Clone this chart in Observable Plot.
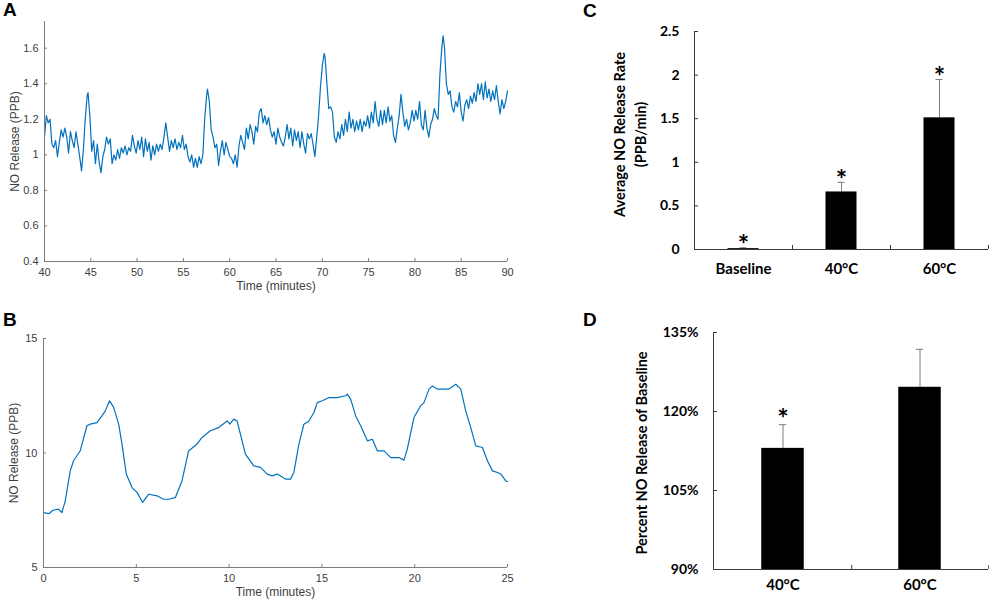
<!DOCTYPE html>
<html><head><meta charset="utf-8">
<script src="https://cdn.jsdelivr.net/npm/d3@7"></script>
<script src="https://cdn.jsdelivr.net/npm/@observablehq/plot@0.6"></script>
<style>
body{margin:0;background:#fff;}
#fig{position:relative;width:989px;height:602px;overflow:hidden;background:#fff;}
.panel{position:absolute;}
.letter{position:absolute;font:bold 19px "Liberation Sans",Arial,sans-serif;line-height:19px;color:#000;}
</style></head><body><div id="fig"></div>
<script>
// ---------- Panel A: NO release, 40–90 min ----------
const pointsA = [
[40.0,1.10],[40.2,1.22],[40.4,1.18],[40.6,1.20],[40.8,1.06],[41.0,1.04],[41.2,1.08],[41.4,0.99],[41.6,1.07],[41.8,1.14],
[42.0,1.10],[42.2,1.15],[42.4,1.10],[42.6,1.01],[42.8,1.13],[43.0,1.08],[43.2,1.04],[43.4,1.13],[43.6,1.06],[43.8,0.99],
[44.0,0.91],[44.2,1.03],[44.4,1.20],[44.6,1.33],[44.7,1.35],[44.9,1.22],[45.1,1.02],[45.3,1.08],[45.5,0.95],[45.7,1.06],
[45.9,0.96],[46.1,0.90],[46.3,0.99],[46.5,1.03],[46.7,1.10],[46.9,1.06],[47.1,1.09],[47.3,0.95],[47.5,1.00],[47.7,0.97],
[47.9,1.03],[48.1,0.98],[48.3,1.04],[48.5,1.01],[48.7,1.05],[48.9,1.00],[49.1,1.04],[49.3,1.02],[49.5,1.11],[49.7,1.05],
[49.9,1.01],[50.1,1.08],[50.3,1.03],[50.5,1.10],[50.7,0.99],[50.9,1.09],[51.1,1.02],[51.3,1.07],[51.5,0.97],[51.7,1.05],
[51.9,1.00],[52.1,1.06],[52.3,1.02],[52.5,1.06],[52.7,1.03],[52.9,1.10],[53.1,1.18],[53.3,1.10],[53.5,1.02],[53.7,1.08],
[53.9,1.04],[54.1,1.09],[54.3,1.03],[54.5,1.07],[54.7,1.04],[54.9,1.11],[55.1,1.03],[55.3,1.06],[55.5,0.99],[55.7,0.96],
[55.9,1.00],[56.1,0.93],[56.3,0.98],[56.5,0.93],[56.7,0.99],[56.9,0.95],[57.1,1.00],[57.3,1.20],[57.5,1.33],[57.6,1.37],
[57.8,1.30],[58.0,1.14],[58.2,1.10],[58.4,1.04],[58.6,1.06],[58.8,0.94],[59.0,1.02],[59.2,1.08],[59.4,1.00],[59.6,1.07],
[59.8,1.03],[60.0,0.99],[60.2,0.98],[60.4,0.95],[60.6,1.00],[60.8,0.93],[61.0,1.05],[61.2,1.11],[61.4,1.07],[61.6,1.03],
[61.8,1.15],[62.0,1.09],[62.2,1.17],[62.4,1.13],[62.6,1.06],[62.8,1.16],[63.0,1.13],[63.2,1.24],[63.4,1.26],[63.6,1.18],
[63.8,1.22],[64.0,1.17],[64.2,1.21],[64.4,1.14],[64.6,1.10],[64.8,1.13],[65.0,1.06],[65.2,1.15],[65.4,1.10],[65.6,1.07],
[65.8,1.05],[66.0,1.10],[66.2,1.17],[66.4,1.09],[66.6,1.15],[66.8,1.05],[67.0,1.14],[67.2,1.08],[67.4,1.13],[67.6,1.04],
[67.8,1.13],[68.0,1.06],[68.2,1.01],[68.4,1.12],[68.6,1.09],[68.8,1.12],[69.0,1.06],[69.2,0.99],[69.4,1.10],[69.6,1.22],
[69.8,1.38],[70.0,1.50],[70.2,1.57],[70.3,1.55],[70.5,1.40],[70.7,1.26],[70.9,1.27],[71.1,1.24],[71.3,1.10],[71.5,1.07],
[71.7,1.13],[71.9,1.09],[72.1,1.17],[72.3,1.11],[72.5,1.20],[72.7,1.13],[72.9,1.24],[73.1,1.15],[73.3,1.20],[73.5,1.13],
[73.7,1.19],[73.9,1.14],[74.1,1.20],[74.3,1.13],[74.5,1.19],[74.7,1.16],[74.9,1.22],[75.1,1.15],[75.3,1.24],[75.5,1.18],
[75.7,1.30],[75.9,1.20],[76.1,1.16],[76.3,1.25],[76.5,1.17],[76.7,1.25],[76.9,1.18],[77.1,1.27],[77.3,1.19],[77.5,1.22],
[77.7,1.11],[77.9,1.07],[78.1,1.15],[78.3,1.22],[78.5,1.34],[78.7,1.24],[78.9,1.16],[79.1,1.20],[79.3,1.14],[79.5,1.18],
[79.7,1.25],[79.9,1.19],[80.1,1.25],[80.3,1.20],[80.5,1.30],[80.7,1.17],[80.9,1.14],[81.1,1.25],[81.3,1.15],[81.5,1.10],
[81.7,1.17],[81.9,1.20],[82.1,1.26],[82.3,1.22],[82.5,1.20],[82.7,1.45],[82.9,1.60],[83.05,1.67],[83.2,1.60],[83.4,1.40],
[83.6,1.34],[83.8,1.36],[84.0,1.27],[84.2,1.24],[84.4,1.30],[84.6,1.27],[84.8,1.35],[85.0,1.24],[85.2,1.19],[85.4,1.28],
[85.6,1.31],[85.8,1.26],[86.0,1.33],[86.2,1.29],[86.4,1.35],[86.6,1.30],[86.8,1.40],[87.0,1.34],[87.2,1.40],[87.4,1.31],
[87.6,1.41],[87.8,1.32],[88.0,1.37],[88.2,1.30],[88.4,1.36],[88.6,1.31],[88.8,1.39],[89.0,1.30],[89.2,1.23],[89.4,1.31],
[89.6,1.26],[89.8,1.30],[90.0,1.36]
];
const xTicksA = [40,45,50,55,60,65,70,75,80,85,90];
const yTicksA = [0.4,0.6,0.8,1.0,1.2,1.4,1.6];

// ---------- Panel B: NO release, 0–25 min ----------
const pointsB = [
[0,7.40],[0.3,7.35],[0.5,7.50],[0.8,7.55],[0.99,7.40],[1.17,7.90],[1.44,9.22],[1.62,9.66],[1.98,10.10],[2.34,11.19],
[2.52,11.26],[2.88,11.33],[3.15,11.62],[3.33,11.84],[3.56,12.28],[3.78,11.99],[4.05,11.26],[4.23,10.39],[4.46,9.08],[4.77,8.49],
[5.04,8.28],[5.34,7.84],[5.67,8.20],[6.12,8.13],[6.47,7.98],[6.74,7.98],[7.10,8.05],[7.46,8.78],[7.82,10.09],[8.27,10.39],
[8.54,10.68],[8.99,10.97],[9.44,11.11],[9.89,11.40],[10.04,11.26],[10.25,11.48],[10.43,11.40],[10.70,10.53],[10.88,9.95],[11.33,9.44],
[11.69,9.37],[12.05,9.08],[12.32,9.00],[12.59,9.08],[13.04,8.86],[13.31,8.86],[13.49,9.15],[13.76,10.39],[14.03,11.26],[14.30,11.40],
[14.57,11.77],[14.75,12.20],[15.02,12.28],[15.38,12.42],[15.83,12.42],[16.28,12.50],[16.37,12.57],[16.55,12.35],[16.82,11.62],[17.09,11.19],
[17.45,10.53],[17.72,10.60],[17.99,10.09],[18.35,10.09],[18.71,9.80],[19.15,9.80],[19.42,9.69],[19.60,10.17],[19.96,11.55],[20.32,12.06],
[20.50,12.20],[20.77,12.79],[20.95,12.93],[21.22,12.79],[21.49,12.79],[21.85,12.79],[22.21,13.00],[22.48,12.79],[22.75,11.84],[23.02,11.11],
[23.29,10.31],[23.65,10.24],[23.92,9.66],[24.19,9.22],[24.46,9.15],[24.64,9.08],[24.91,8.78],[25,8.75]
];
const xTicksB = [0,5,10,15,20,25];
const yTicksB = [5,10,15];

// ---------- Panel C: average NO release rate ----------
const categoriesC = ["Baseline","40°C","60°C"];
const rateC = [0.01, 0.66, 1.51];
const rateErrC = [0.01, 0.11, 0.44];
const sigC = [true, true, true];
const yTicksC = [0, 0.5, 1, 1.5, 2, 2.5];

// ---------- Panel D: percent of baseline ----------
const categoriesD = ["40°C","60°C"];
const percentD = [1.130, 1.246];
const percentErrD = [0.045, 0.072];
const sigD = [true, false];
const yTicksD = [0.90, 1.05, 1.20, 1.35];

// ---------- shared styling ----------
const fontAB = '"Liberation Sans", Arial, Helvetica, sans-serif';
const fontCD = 'Lato, "Open Sans", sans-serif';
const blue = "#0072BD";
const axisAB = "#7c7c7c";
const textAB = "#404040";
const axisCD = "#3a3a3a";
const errGray = "#7f7f7f";

const fig = document.getElementById("fig");
function place(el, left, top) {
  const d = document.createElement("div");
  d.className = "panel"; d.style.left = left + "px"; d.style.top = top + "px";
  d.appendChild(el); fig.appendChild(d);
}
function letter(t, left, top) {
  const d = document.createElement("div");
  d.className = "letter"; d.textContent = t;
  d.style.left = left + "px"; d.style.top = top + "px";
  fig.appendChild(d);
}

function linePanel({points, xDomain, yDomain, xTicks, yTicks, width, height, mt, mb, ml, mr}) {
  return Plot.plot({
    width, height, marginTop: mt, marginBottom: mb, marginLeft: ml, marginRight: mr,
    style: {fontFamily: fontAB, fontSize: "11px", color: textAB, background: "transparent", overflow: "visible"},
    x: {domain: xDomain}, y: {domain: yDomain},
    marks: [
      Plot.line(points, {x: d => d[0], y: d => d[1], stroke: blue, strokeWidth: 1.2}),
      Plot.ruleY([yDomain[0]], {stroke: axisAB}),
      Plot.ruleX([xDomain[0]], {stroke: axisAB}),
      Plot.axisX(xTicks, {tickSize: -3, tickFormat: () => "", stroke: axisAB, label: null}),
      Plot.axisX(xTicks, {tickSize: 0, tickPadding: 7, tickFormat: d3.format("~g"), fill: textAB, fontSize: 11, label: null}),
      Plot.axisY(yTicks, {tickSize: -3, tickFormat: () => "", stroke: axisAB, label: null}),
      Plot.axisY(yTicks, {tickSize: 0, tickPadding: 6, tickFormat: d3.format("~g"), fill: textAB, fontSize: 11, label: null}),
      Plot.text(["Time (minutes)"], {text: d => d, frameAnchor: "bottom", dy: 28, fontSize: 12, fill: textAB}),
      Plot.text(["NO Release (PPB)"], {text: d => d, frameAnchor: "left", textAnchor: "middle", rotate: -90, dx: -29, fontSize: 12, fill: textAB})
    ]
  });
}

place(linePanel({points: pointsA, xDomain: [40, 90], yDomain: [0.4, 1.75], xTicks: xTicksA, yTicks: yTicksA,
  width: 540, height: 300, mt: 21, mb: 39, ml: 44, mr: 33}), 0, 0);
place(linePanel({points: pointsB, xDomain: [0, 25], yDomain: [5, 15], xTicks: xTicksB, yTicks: yTicksB,
  width: 540, height: 302, mt: 38, mb: 35, ml: 43, mr: 33}), 0, 300);

function barPanel({cats, vals, errs, sig, yDomain, yTicks, yFormat, ylabel, width, height, mt, mb, ml, mr,
                   barW, capW, catPad, ylabelDx, ylabelDy, starDy}) {
  const data = cats.map((c, i) => ({cat: c, v: vals[i], hi: vals[i] + errs[i], sig: sig[i], base: yDomain[0]}));
  const bw = (width - ml - mr) / cats.length;
  return Plot.plot({
    width, height, marginTop: mt, marginBottom: mb, marginLeft: ml, marginRight: mr,
    style: {fontFamily: fontCD, fontSize: "14px", fontWeight: "bold", color: "#000", background: "transparent", overflow: "visible"},
    x: {type: "band", domain: cats, padding: 0}, y: {domain: yDomain},
    marks: [
      Plot.ruleX(data, {x: "cat", y1: "v", y2: "hi", stroke: errGray, strokeWidth: 1}),
      Plot.tickY(data, {x: "cat", y: "hi", stroke: errGray, strokeWidth: 1, insetLeft: (bw - capW) / 2, insetRight: (bw - capW) / 2}),
      Plot.barY(data, {x: "cat", y1: "base", y2: "v", fill: "#000", insetLeft: (bw - barW) / 2, insetRight: (bw - barW) / 2}),
      Plot.text(data.filter(d => d.sig), {x: "cat", y: "hi", text: () => "*", dy: starDy, fontSize: 27, fontWeight: "bold", fill: "#000"}),
      Plot.frame({anchor: "left", stroke: axisCD}),
      Plot.ruleY([yDomain[0]], {stroke: axisCD}),
      Plot.axisX({tickSize: -4, dx: bw / 2, tickFormat: () => "", stroke: axisCD, label: null}),
      Plot.axisX({tickSize: 0, tickPadding: catPad, fontSize: 15, fontWeight: "bold", fill: "#000", label: null}),
      Plot.axisY(yTicks, {tickSize: -4, tickFormat: () => "", stroke: axisCD, label: null}),
      Plot.axisY(yTicks, {tickSize: 0, tickPadding: 15, tickFormat: yFormat, fontSize: 14, fontWeight: "bold", fill: "#000", label: null}),
      Plot.text([ylabel], {text: d => d, frameAnchor: "left", textAnchor: "middle", rotate: -90, dx: ylabelDx, dy: ylabelDy, fontSize: 14.5, fontWeight: "bold", lineHeight: 1.45, fill: "#000"})
    ]
  });
}

place(barPanel({cats: categoriesC, vals: rateC, errs: rateErrC, sig: sigC, yDomain: [0, 2.5], yTicks: yTicksC,
  yFormat: d3.format("~g"), ylabel: "Average NO Release Rate\n(PPB/min)",
  width: 409, height: 300, mt: 31, mb: 51, ml: 114, mr: 1, barW: 31, capW: 7, catPad: 14,
  ylabelDx: -66, ylabelDy: -6, starDy: -2}), 580, 0);
place(barPanel({cats: categoriesD, vals: percentD, errs: percentErrD, sig: sigD, yDomain: [0.90, 1.35], yTicks: yTicksD,
  yFormat: d3.format(".0%"), ylabel: "Percent NO Release of Baseline",
  width: 409, height: 302, mt: 32, mb: 33, ml: 133, mr: 1, barW: 43, capW: 8, catPad: 10,
  ylabelDx: -73, ylabelDy: 2, starDy: -5}), 580, 300);

letter("A", 3, 0);
letter("B", 3, 310);
letter("C", 583, 1);
letter("D", 583, 310);
</script></body></html>
